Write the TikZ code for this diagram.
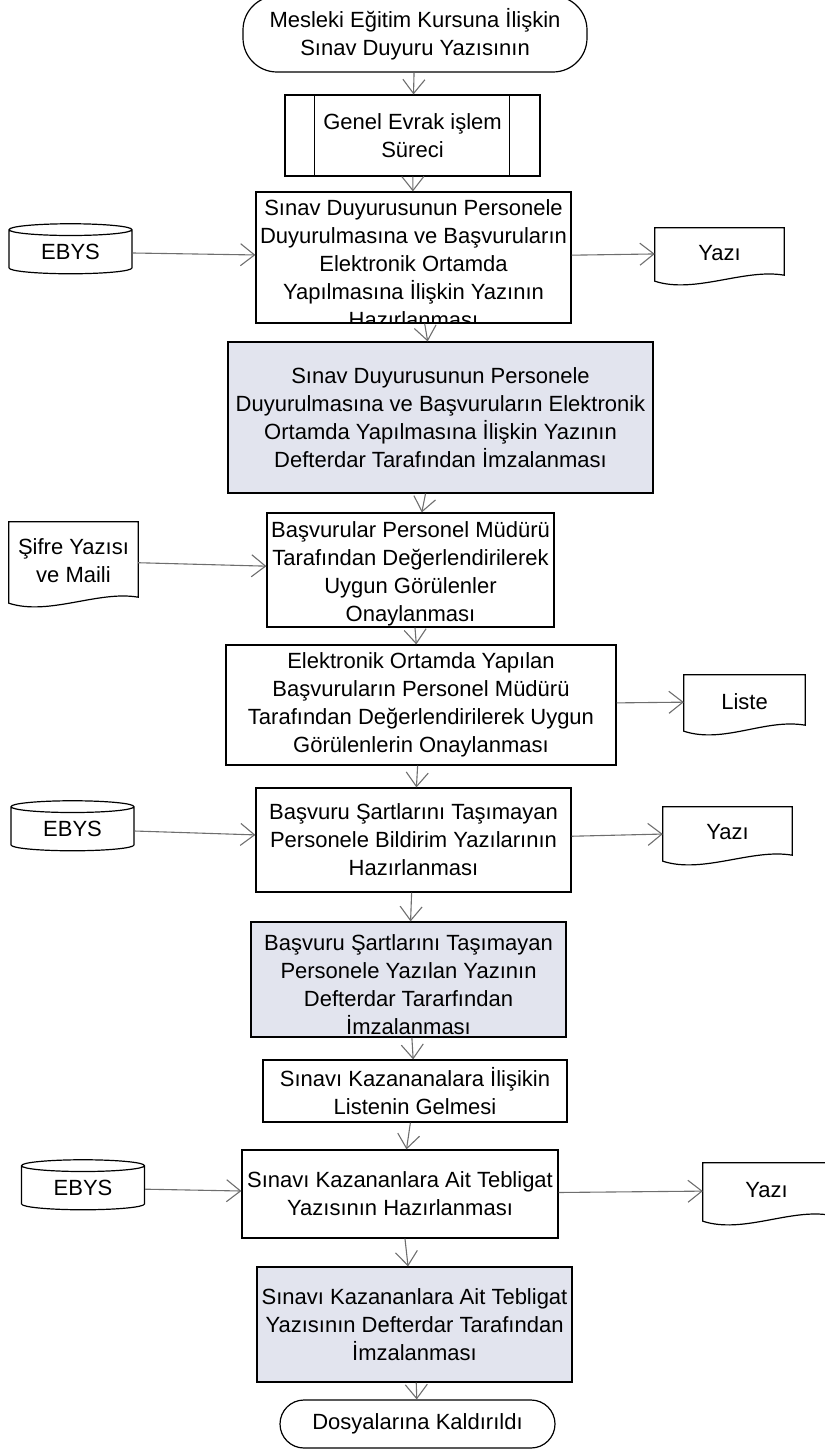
\documentclass[tikz,border=0pt]{standalone}
\usepackage{fontspec}
\setmainfont{Liberation Sans}
\usetikzlibrary{shapes.geometric,arrows.meta}
\definecolor{signgray}{RGB}{226,228,238}
\definecolor{arrowgray}{RGB}{110,110,110}

\begin{document}
\begin{tikzpicture}[x=1pt, y=-1pt,
    every node/.style={font=\fontsize{22pt}{28pt}\selectfont, align=center},
    main node/.style={rectangle, draw, line width=1.2pt, inner sep=0pt},
    sign node/.style={main node, fill=signgray},
    term node/.style={main node, rounded corners=#1},
    data node/.style={cylinder, shape border rotate=90, aspect=0.2, draw, line width=1.2pt,
                      inner sep=0pt, minimum width=123pt, minimum height=50pt},
    doc node/.style={rectangle, inner sep=0pt},
    clip text/.style 2 args={path picture={\node[draw=none, fill=none, inner sep=0pt,
        minimum size=0pt] at ([yshift=#1]path picture bounding box.center) {#2};}}]

  \useasboundingbox (0,0) rectangle (824,1450);

  \node[term node=34pt, minimum width=344pt, minimum height=76pt] (1) at (415,34)
        {Mesleki Eğitim Kursuna İlişkin\\Sınav Duyuru Yazısının};
  \node[main node, minimum width=255pt, minimum height=81pt] (2) at (412.5,135.5)
        {Genel Evrak işlem\\Süreci};
  \node[main node, minimum width=315pt, minimum height=131pt,
        clip text={-6.5pt}{Sınav Duyurusunun Personele\\Duyurulmasına ve Başvuruların\\Elektronik Ortamda\\Yapılmasına İlişkin Yazının\\Hazırlanması}] (3) at (413.5,257.5) {};
  \node[sign node, minimum width=425pt, minimum height=151pt] (4) at (440.5,417.5)
        {Sınav Duyurusunun Personele\\Duyurulmasına ve Başvuruların Elektronik\\Ortamda Yapılmasına İlişkin Yazının\\Defterdar Tarafından İmzalanması};
  \node[main node, minimum width=287pt, minimum height=114pt,
        clip text={-3.5pt}{Başvurular Personel Müdürü\\Tarafından Değerlendirilerek\\Uygun Görülenler\\Onaylanması}] (5) at (410.5,570) {};
  \node[main node, minimum width=390pt, minimum height=120pt] (6) at (421,705)
        {Elektronik Ortamda Yapılan\\Başvuruların Personel Müdürü\\Tarafından Değerlendirilerek Uygun\\Görülenlerin Onaylanması};
  \node[main node, minimum width=315pt, minimum height=104pt] (7) at (413.5,840)
        {Başvuru Şartlarını Taşımayan\\Personele Bildirim Yazılarının\\Hazırlanması};
  \node[sign node, minimum width=315pt, minimum height=115pt,
        clip text={-5pt}{Başvuru Şartlarını Taşımayan\\Personele Yazılan Yazının\\Defterdar Tararfından\\İmzalanması}] (8) at (408.5,979.5) {};
  \node[main node, minimum width=304pt, minimum height=62pt] (9) at (415,1091)
        {Sınavı Kazananalara İlişikin\\Listenin Gelmesi};
  \node[main node, minimum width=316pt, minimum height=88pt] (10) at (400,1194)
        {Sınavı Kazananlara Ait Tebligat\\Yazısının Hazırlanması};
  \node[sign node, minimum width=315pt, minimum height=115pt] (11) at (414.5,1324.5)
        {Sınavı Kazananlara Ait Tebligat\\Yazısının Defterdar Tarafından\\İmzalanması};
  \node[term node=24pt, minimum width=275pt, minimum height=48pt] (12) at (417.5,1424)
        {Dosyalarına Kaldırıldı};

  \node[data node] (e1) at (70.5,252) {EBYS};
  \node[data node] (e2) at (72.5,829) {EBYS};
  \node[data node] (e3) at (83,1188) {EBYS};

  \node[doc node, minimum width=129pt, minimum height=50pt] (y1) at (719.5,253) {Yazı};
  \node[doc node, minimum width=129pt, minimum height=78pt] (s1) at (73.5,561) {Şifre Yazısı\\ve Maili};
  \node[doc node, minimum width=121pt, minimum height=53pt] (l1) at (744.5,701.5) {Liste};
  \node[doc node, minimum width=129pt, minimum height=51pt] (y2) at (727.5,832.5) {Yazı};
  \node[doc node, minimum width=127pt, minimum height=55pt] (y3) at (766.5,1190.5) {Yazı};

  \foreach \n in {y1,s1,l1,y2,y3}
    \draw[line width=1.2pt] (\n.north west) -- (\n.north east) -- ([yshift=3pt]\n.south east)
      .. controls ([xshift=-40pt,yshift=10pt]\n.south east) and ([xshift=40pt,yshift=-16pt]\n.south west)
      .. ([yshift=-3pt]\n.south west) -- cycle;

  \draw[line width=1.2pt] ([xshift=30pt]2.north west) -- ([xshift=30pt]2.south west)
                          ([xshift=-31pt]2.north east) -- ([xshift=-31pt]2.south east);

\path[every edge/.style={draw=arrowgray, line width=1.1pt, -{Straight Barb[length=14pt,width=22pt]}}]
  (1) edge (2)
  (2) edge (3)
  (3) edge (4)
  (4) edge (5)
  (5) edge (6)
  (6) edge (7)
  (7) edge (8)
  (8) edge (9)
  (9) edge (10)
  (10) edge (11)
  (11) edge (12)
  (e1) edge (3)
  (3) edge (y1)
  (s1) edge (5)
  (6) edge (l1)
  (e2) edge (7)
  (7) edge (y2)
  (e3) edge (10)
  (10) edge (y3);

\end{tikzpicture}
\end{document}
